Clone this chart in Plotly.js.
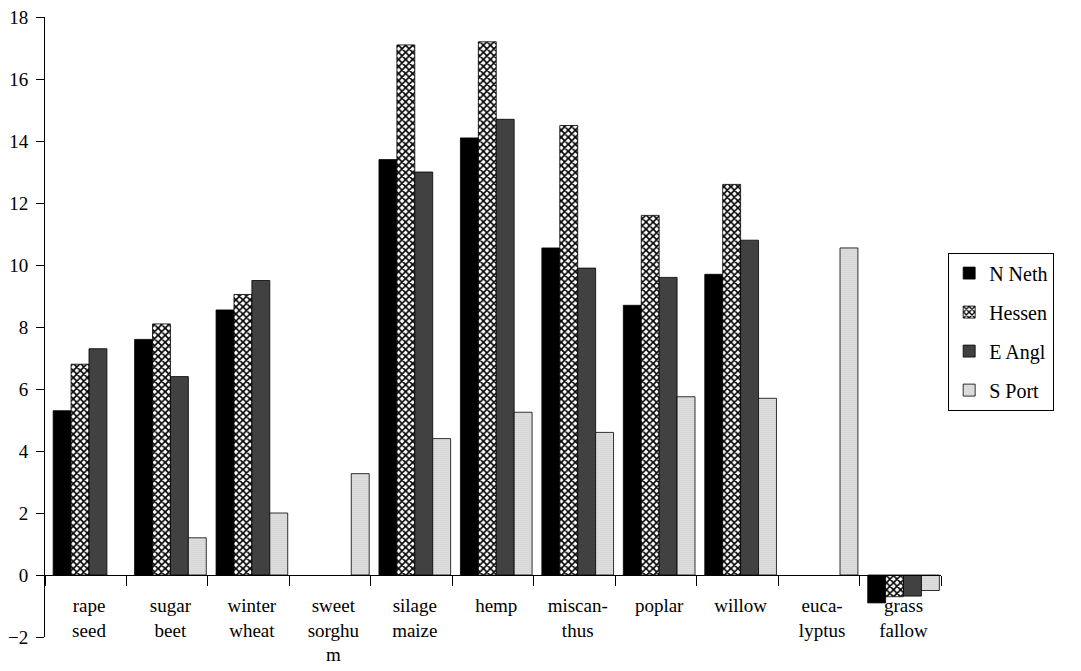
<!DOCTYPE html>
<html>
<head>
<meta charset="utf-8">
<script src="https://cdn.plot.ly/plotly-3.0.1.min.js"></script>
<style>html,body{margin:0;padding:0;background:#fff;}#chart{width:1081px;height:671px;}</style>
</head>
<body>
<div id="chart"></div>
<script>
var categories = ["rape<br>seed", "sugar<br>beet", "winter<br>wheat", "sweet<br>sorghu<br>m", "silage<br>maize", "hemp", "miscan-<br>thus", "poplar", "willow", "euca-<br>lyptus", "grass<br>fallow"];
var seriesNames = ["N Neth", "Hessen", "E Angl", "S Port"];
var nNeth  = [5.3, 7.6, 8.55, null, 13.4, 14.1, 10.55, 8.7, 9.7, null, -0.9];
var hessen = [6.8, 8.1, 9.05, null, 17.1, 17.2, 14.5, 11.6, 12.6, null, -0.7];
var eAngl  = [7.3, 6.4, 9.5, null, 13.0, 14.7, 9.9, 9.6, 10.8, null, -0.68];
var sPort  = [null, 1.2, 2.0, 3.27, 4.4, 5.25, 4.6, 5.75, 5.7, 10.55, -0.5];
var yTicks = [-2, 0, 2, 4, 6, 8, 10, 12, 14, 16, 18];

var xs = categories.map(function(c, i){ return i; });
var serif = "Liberation Serif";

var patterns = [
  {shape: "", fgcolor: "#000", bgcolor: "#000"},
  {shape: "x", fgcolor: "#000", bgcolor: "#fff", size: 5, solidity: 0.55},
  {shape: ".", fgcolor: "#111", bgcolor: "#666", size: 2, solidity: 0.5},
  {shape: ".", fgcolor: "#9a9a9a", bgcolor: "#eeeeee", size: 2, solidity: 0.3}
];
var colors = ["#000", "#fff", "#444", "#ddd"];
var values = [nNeth, hessen, eAngl, sPort];

var data = values.map(function(v, k){
  return {
    type: "bar",
    name: seriesNames[k],
    x: xs,
    y: v,
    legendgroup: "g" + k,
    marker: {
      color: colors[k],
      pattern: patterns[k],
      line: {color: "#000", width: 0.8}
    }
  };
});

var layout = {
  width: 1081,
  height: 671,
  margin: {l: 45, r: 140, t: 17, b: 34},
  paper_bgcolor: "#fff",
  plot_bgcolor: "#fff",
  barmode: "group",
  bargap: 0.12,
  bargroupgap: 0,
  font: {family: serif, color: "#000", size: 19},
  xaxis: {
    type: "linear",
    range: [-0.54, 10.46],
    tickvals: xs,
    ticktext: categories,
    ticks: "",
    ticklabelstandoff: 13,
    tickfont: {family: serif, size: 19, color: "#000"},
    showgrid: false,
    zeroline: false,
    showline: true,
    linecolor: "#000",
    linewidth: 1,
    anchor: "free",
    position: 0.1,
    minor: {tick0: -0.54, dtick: 1, ticks: "outside", ticklen: 10, tickcolor: "#000", tickwidth: 1, showgrid: false}
  },
  yaxis: {
    range: [-2, 18],
    tickvals: yTicks,
    ticks: "outside",
    ticklen: 8,
    tickcolor: "#000",
    ticklabelstandoff: 4,
    tickfont: {family: serif, size: 19, color: "#000"},
    showgrid: false,
    zeroline: false,
    showline: true,
    linecolor: "#000",
    linewidth: 1
  },
  legend: {
    x: 1.008,
    xanchor: "left",
    y: 0.62,
    yanchor: "top",
    font: {family: serif, size: 20, color: "#000"},
    bordercolor: "#000",
    borderwidth: 1,
    bgcolor: "#fff",
    traceorder: "grouped",
    tracegroupgap: 10,
    itemwidth: 30
  },
  showlegend: true
};

Plotly.newPlot("chart", data, layout, {displayModeBar: false, staticPlot: true});
</script>
</body>
</html>
